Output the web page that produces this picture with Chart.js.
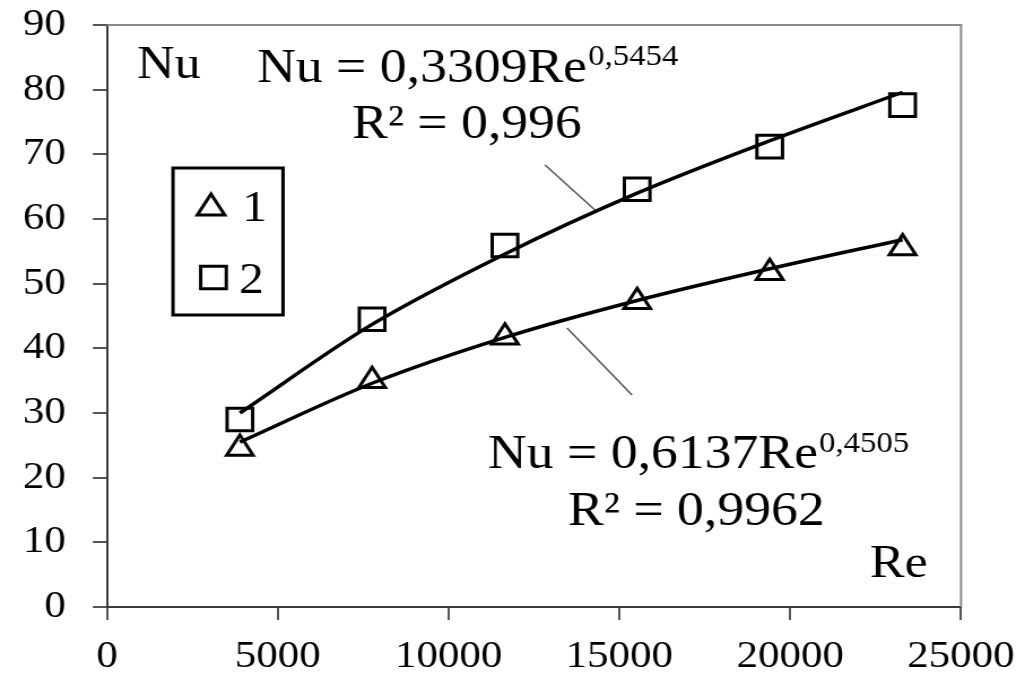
<!DOCTYPE html>
<html>
<head>
<meta charset="utf-8">
<script src="https://cdn.jsdelivr.net/npm/chart.js@4.4.1/dist/chart.umd.min.js"></script>
<style>
html,body{margin:0;padding:0;background:#fff;overflow:hidden;}
#wrap{width:907px;height:675px;transform:scaleX(1.1301);transform-origin:0 0;}
canvas{display:block;}
</style>
</head>
<body>
<div id="wrap"><canvas id="c" width="907" height="675"></canvas></div>
<script>
// ---- data ----
const reValues = [3890, 7760, 11650, 15520, 19400, 23290];
const nuSeries1 = [24.5, 35.0, 41.7, 47.2, 51.7, 55.5];   // triangles (1)
const nuSeries2 = [29.0, 44.5, 55.9, 64.6, 71.2, 77.6];   // squares (2)
const trendNu1 = [25.5, 34.6, 41.7, 47.4, 52.3, 56.8];    // power trend line of series 1
const trendNu2 = [30.0, 43.7, 54.6, 64.0, 72.1, 79.6];    // power trend line of series 2
const xTickLabels = [0, 5000, 10000, 15000, 20000, 25000];
const yTickLabels = [0, 10, 20, 30, 40, 50, 60, 70, 80, 90];
const legendLabels = ['1', '2'];
const eq1Text = ['Nu = 0,6137Re', '0,4505', 'R² = 0,9962'];
const eq2Text = ['Nu = 0,3309Re', '0,5454', 'R² = 0,996'];
const yAxisTitle = 'Nu';
const xAxisTitle = 'Re';

const SX = 1025 / 907;
const FONT = "'Liberation Serif','Times New Roman',serif";

function pts(xs, ys) { return xs.map((x, i) => ({ x: x, y: ys[i] })); }

function drawMarker(ctx, style, r, x, y) {
  ctx.save();
  ctx.strokeStyle = '#000';
  ctx.lineWidth = 3;
  ctx.fillStyle = 'rgba(0,0,0,0)';
  if (Chart.helpers && Chart.helpers.drawPoint) {
    Chart.helpers.drawPoint(ctx, { pointStyle: style, radius: r, rotation: 0, borderWidth: 3 }, x, y);
  } else {
    ctx.beginPath();
    if (style === 'triangle') {
      ctx.moveTo(x, y - r);
      ctx.lineTo(x + 0.866 * r, y + 0.5 * r);
      ctx.lineTo(x - 0.866 * r, y + 0.5 * r);
      ctx.closePath();
    } else {
      const s = r * Math.SQRT1_2;
      ctx.rect(x - s, y - s, 2 * s, 2 * s);
    }
    ctx.stroke();
  }
  ctx.restore();
}

const annotate = {
  id: 'annotate',
  afterDraw(chart) {
    const ctx = chart.ctx;
    const a = chart.chartArea;
    ctx.save();
    // frame top & right
    ctx.strokeStyle = '#8a8a8a';
    ctx.lineWidth = 2;
    ctx.beginPath();
    ctx.moveTo(a.left, a.top);
    ctx.lineTo(a.right, a.top);
    ctx.lineTo(a.right, a.bottom);
    ctx.stroke();

    ctx.fillStyle = '#000';
    ctx.textAlign = 'left';
    ctx.textBaseline = 'alphabetic';
    // axis titles
    ctx.font = '46px ' + FONT;
    ctx.fillText(yAxisTitle, 137 / SX, 78);
    ctx.fillText(xAxisTitle, 870 / SX, 577);

    // equation of series 2 (top)
    let w;
    ctx.font = '47.5px ' + FONT;
    ctx.fillText(eq2Text[0], 257 / SX, 82);
    w = ctx.measureText(eq2Text[0]).width;
    ctx.font = '29px ' + FONT;
    ctx.fillText(eq2Text[1], 257 / SX + w + 1, 65);
    ctx.font = '47.5px ' + FONT;
    ctx.fillText(eq2Text[2], 352 / SX, 138);

    // equation of series 1 (bottom)
    ctx.font = '47.5px ' + FONT;
    ctx.fillText(eq1Text[0], 488 / SX, 468);
    w = ctx.measureText(eq1Text[0]).width;
    ctx.font = '29px ' + FONT;
    ctx.fillText(eq1Text[1], 488 / SX + w + 1, 452);
    ctx.font = '47.5px ' + FONT;
    ctx.fillText(eq1Text[2], 568 / SX, 525);

    // leader lines
    ctx.strokeStyle = '#555';
    ctx.lineWidth = 1.5;
    ctx.beginPath();
    ctx.moveTo(545 / SX, 165); ctx.lineTo(595 / SX, 210);
    ctx.moveTo(567 / SX, 328); ctx.lineTo(632 / SX, 395);
    ctx.stroke();

    // legend box
    ctx.strokeStyle = '#000';
    ctx.lineWidth = 3;
    ctx.strokeRect(173 / SX, 168, (283 - 173) / SX, 147);
    drawMarker(ctx, 'triangle', 14, 211 / SX, 208);
    drawMarker(ctx, 'rect', 16, 213.5 / SX, 277.5);
    ctx.fillStyle = '#000';
    ctx.font = '44px ' + FONT;
    ctx.fillText(legendLabels[0], 242 / SX, 221);
    ctx.fillText(legendLabels[1], 239 / SX, 293);
    ctx.restore();
  }
};

const markerCommon = {
  showLine: false,
  pointBorderColor: '#000',
  pointBackgroundColor: 'rgba(0,0,0,0)',
  pointBorderWidth: 3,
  order: 0
};
const trendCommon = {
  showLine: true,
  borderColor: '#000',
  borderWidth: 3.5,
  pointRadius: 0,
  cubicInterpolationMode: 'monotone',
  fill: false,
  order: 1
};

function noOverhang(scale) {
  scale.paddingTop = 0; scale.paddingBottom = 0;
  scale.paddingLeft = 0; scale.paddingRight = 0;
}

const chart = new Chart(document.getElementById('c'), {
  type: 'scatter',
  data: {
    datasets: [
      Object.assign({ label: '1', data: pts(reValues, nuSeries1), pointStyle: 'triangle', pointRadius: 13.5 }, markerCommon),
      Object.assign({ label: '2', data: pts(reValues, nuSeries2), pointStyle: 'rect', pointRadius: 16 }, markerCommon),
      Object.assign({ label: 'trend 1', data: pts(reValues, trendNu1) }, trendCommon),
      Object.assign({ label: 'trend 2', data: pts(reValues, trendNu2) }, trendCommon)
    ]
  },
  options: {
    responsive: false,
    animation: false,
    events: [],
    devicePixelRatio: 1,
    layout: { padding: { top: 25, right: 907 - 961 / SX, left: 0, bottom: 0 } },
    plugins: { legend: { display: false }, tooltip: { enabled: false } },
    scales: {
      x: {
        type: 'linear',
        min: xTickLabels[0],
        max: xTickLabels[xTickLabels.length - 1],
        afterBuildTicks(scale) { scale.ticks = xTickLabels.map(v => ({ value: v })); },
        afterFit(scale) { scale.height = 68; noOverhang(scale); },
        ticks: { color: '#000', font: { family: FONT, size: 38 }, padding: 14, maxRotation: 0, autoSkip: false,
                 callback: (v) => String(v) },
        grid: { drawOnChartArea: false, drawTicks: true, tickLength: 13, color: '#555', lineWidth: 2 },
        border: { display: true, color: '#3a3a3a', width: 2 }
      },
      y: {
        type: 'linear',
        min: yTickLabels[0],
        max: yTickLabels[yTickLabels.length - 1],
        afterBuildTicks(scale) { scale.ticks = yTickLabels.map(v => ({ value: v })); },
        afterFit(scale) { scale.width = 107 / SX; noOverhang(scale); },
        ticks: { color: '#000', font: { family: FONT, size: 38 }, padding: 24, autoSkip: false,
                 callback: (v) => String(v) },
        grid: { drawOnChartArea: false, drawTicks: true, tickLength: 12.5, color: '#555', lineWidth: 2 },
        border: { display: true, color: '#3a3a3a', width: 2 }
      }
    }
  },
  plugins: [annotate]
});
</script>
</body>
</html>
